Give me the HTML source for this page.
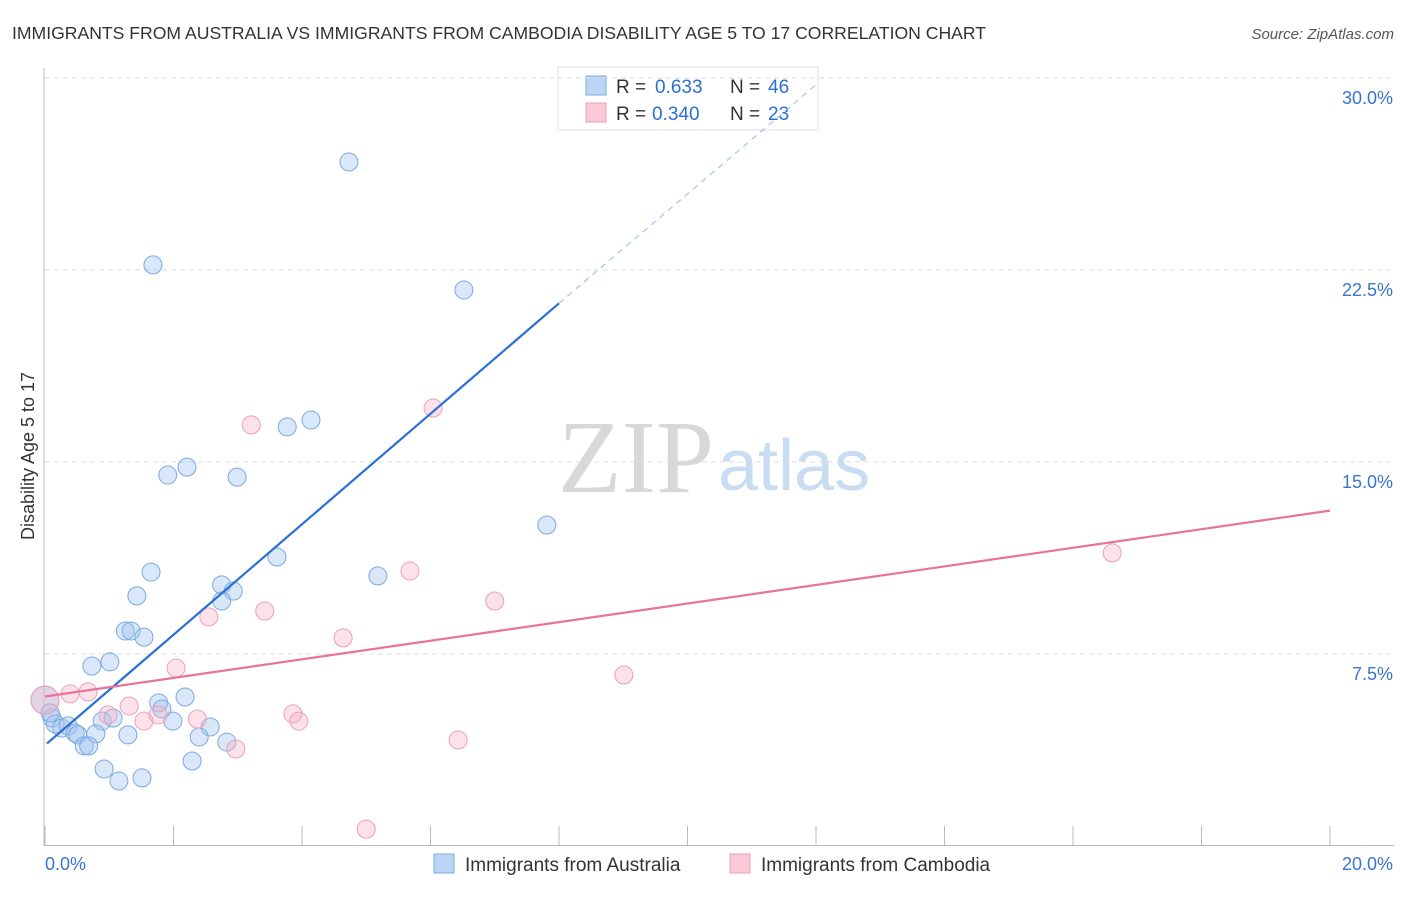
<!DOCTYPE html>
<html><head><meta charset="utf-8"><style>
body{margin:0;background:#fff;font-family:"Liberation Sans",sans-serif;}
</style></head><body>
<svg width="1406" height="892" xmlns="http://www.w3.org/2000/svg" id="svg">
<text x="12" y="39" font-size="17.6" fill="#333">IMMIGRANTS FROM AUSTRALIA VS IMMIGRANTS FROM CAMBODIA DISABILITY AGE 5 TO 17 CORRELATION CHART</text>
<text x="1394" y="39" font-size="15" fill="#555" text-anchor="end" font-style="italic">Source: ZipAtlas.com</text>
<text x="714" y="492" font-size="104" text-anchor="end" fill="#d8d8d8" font-family="Liberation Serif,serif">ZIP</text>
<text x="718" y="490" font-size="72" fill="#c8dcf2">atlas</text>
<text transform="translate(34,456) rotate(-90)" font-size="18" fill="#333" text-anchor="middle">Disability Age 5 to 17</text>
<g>
<rect x="558" y="67" width="260" height="63" fill="#fff" stroke="#ddd"/>
<rect x="586" y="76" width="20" height="19" fill="#bcd5f5" stroke="#7aaae0"/>
<rect x="586" y="103" width="20" height="19" fill="#f9c9d8" stroke="#eea0b8"/>
<text x="616" y="93" font-size="19" fill="#333">R =</text><text x="655" y="93" font-size="19" fill="#2a6fd6">0.633</text>
<text x="730" y="93" font-size="19" fill="#333">N =</text><text x="768" y="93" font-size="19" fill="#2a6fd6">46</text>
<text x="616" y="120" font-size="19" fill="#333">R =</text><text x="652" y="120" font-size="19" fill="#2a6fd6">0.340</text>
<text x="730" y="120" font-size="19" fill="#333">N =</text><text x="768" y="120" font-size="19" fill="#2a6fd6">23</text>
</g>
<g id="grid"></g><g id="pts"></g><g id="lines"></g>
<g>
<rect x="434" y="854" width="20" height="19" fill="#bcd5f5" stroke="#7aaae0"/>
<text x="465" y="871" font-size="19" fill="#333">Immigrants from Australia</text>
<rect x="730" y="854" width="20" height="19" fill="#f9c9d8" stroke="#eea0b8"/>
<text x="761" y="871" font-size="19" fill="#333">Immigrants from Cambodia</text>
</g>
</svg>
<script>
const yTicks=[7.5,15,22.5,30];
const yTickLabels=["7.5%","15.0%","22.5%","30.0%"];
const xTicks=[0,2,4,6,8,10,12,14,16,18,20];
const xTickLabels=["0.0%","20.0%"];
const blueX=[4.73,1.68,6.52,4.14,3.77,2.21,1.91,2.99,7.81,3.61,1.65,5.18,2.75,2.93,1.43,2.75,1.25,1.34,1.54,0.73,1.01,2.18,1.77,1.82,0.89,1.06,1.99,0.11,0.16,0.26,0.36,0.47,0.51,0.79,1.29,2.57,2.40,2.83,0.61,0.68,2.29,0.92,1.15,1.51,0.0,0.08];
const blueY=[26.72,22.70,21.72,16.64,16.37,14.80,14.49,14.41,12.54,11.29,10.70,10.55,10.20,9.96,9.77,9.57,8.40,8.40,8.16,7.03,7.19,5.82,5.59,5.35,4.88,5.00,4.88,5.00,4.77,4.61,4.69,4.41,4.34,4.38,4.34,4.65,4.26,4.06,3.91,3.91,3.32,3.01,2.54,2.66,5.70,5.20];
const pinkX=[3.21,6.04,16.61,5.68,7.00,3.42,2.55,4.64,2.04,9.01,0.67,0.39,1.31,0.98,1.54,1.76,2.37,3.86,3.95,6.43,2.97,5.00,0];
const pinkY=[16.45,17.11,11.45,10.74,9.57,9.18,8.95,8.13,6.95,6.68,6.02,5.94,5.47,5.12,4.88,5.12,4.96,5.16,4.88,4.14,3.79,0.66,5.70];
const blueTrend=[0.03,4.0,8.0,21.2];
const blueDash=[8.0,21.2,12.03,29.8];
const pinkTrend=[0,5.84,20,13.1];
const X=v=>45+v*64.25, Y=v=>846-v*25.6;
const NS="http://www.w3.org/2000/svg";
function mk(t,a,p){const e=document.createElementNS(NS,t);for(const k in a)e.setAttribute(k,a[k]);p.appendChild(e);return e;}
const grid=document.getElementById('grid');
yTicks.forEach((t,i)=>{
 const l=mk('line',{x1:45,x2:1394,y1:Y(t),y2:Y(t),stroke:'#ddd','stroke-dasharray':'5,4'},grid);
 
 
 const tx=mk('text',{x:1393,y:Y(t)+26,'font-size':18,fill:'#3a74d0','text-anchor':'end'},grid);
 tx.textContent=yTickLabels[i];
 
 
});
const ax=mk('line',{x1:44,x2:44,y1:68,y2:846,stroke:'#bbb'},grid);


const bx=mk('line',{x1:44,x2:1394,y1:845.5,y2:845.5,stroke:'#bbb'},grid);


xTicks.forEach(t=>{
 const l=mk('line',{x1:X(t),x2:X(t),y1:826,y2:846,stroke:'#bbb'},grid);
 
 
});
[[0,45,'start'],[1,1393,'end']].forEach(([i,x,a])=>{
 const tx=mk('text',{x:x,y:870,'font-size':18,fill:'#3a74d0','text-anchor':a},grid);
 tx.textContent=xTickLabels[i];
 
 
});
const pts=document.getElementById('pts');
blueX.forEach((v,i)=>{
 const c=mk('circle',{cx:X(v),cy:Y(blueY[i]),r:(v===0?14:9),fill:'rgba(160,196,240,0.4)',stroke:'#7aaae0','stroke-width':1},pts);
 
 
});
pinkX.forEach((v,i)=>{
 const c=mk('circle',{cx:X(v),cy:Y(pinkY[i]),r:(v===0?14:9),fill:'rgba(245,180,200,0.4)',stroke:'#eea0b8','stroke-width':1},pts);
 
 
});
const lines=document.getElementById('lines');
const b=mk('line',{x1:X(blueTrend[0]),y1:Y(blueTrend[1]),x2:X(blueTrend[2]),y2:Y(blueTrend[3]),stroke:'#2a6fd6','stroke-width':2.2},lines);


const bd=mk('line',{x1:X(blueDash[0]),y1:Y(blueDash[1]),x2:X(blueDash[2]),y2:Y(blueDash[3]),stroke:'#9bb8e0','stroke-width':1,'stroke-dasharray':'6,5'},lines);


const p=mk('line',{x1:X(pinkTrend[0]),y1:Y(pinkTrend[1]),x2:X(pinkTrend[2]),y2:Y(pinkTrend[3]),stroke:'#e8739a','stroke-width':2.2},lines);


</script>
</body></html>
